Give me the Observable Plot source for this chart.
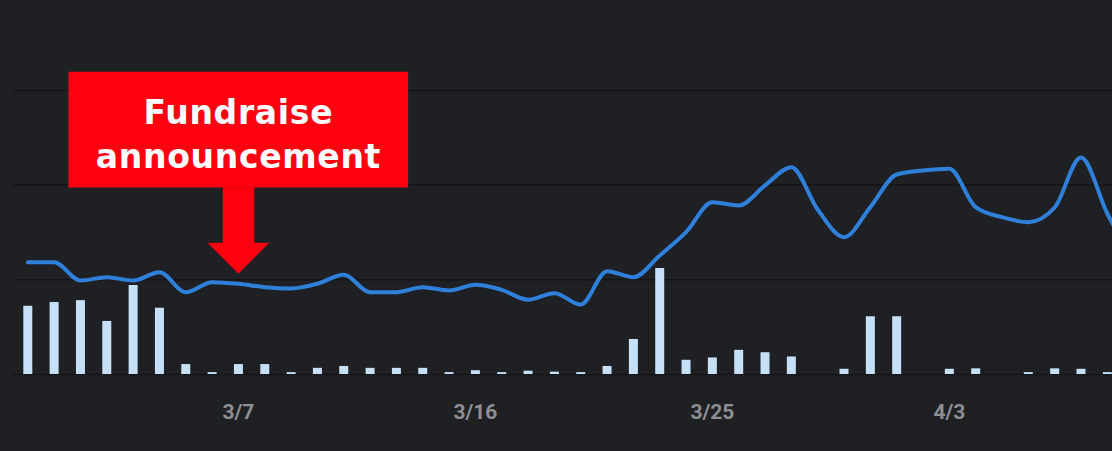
<!DOCTYPE html>
<html><head><meta charset="utf-8">
<script src="https://cdn.jsdelivr.net/npm/d3@7"></script>
<script src="https://cdn.jsdelivr.net/npm/@observablehq/plot@0.6"></script>
<style>
html,body{margin:0;padding:0;background:#1f2024;}
#chart{width:1112px;height:451px;overflow:hidden}
g[font-family="DejaVu Sans"] text{letter-spacing:0.7px}
</style></head><body><div id="chart"></div>
<script>
// ---- data ----
const startDate = "2023-02-27";
const lineValues = [11.86, 11.86, 9.93, 10.27, 9.93, 10.80, 8.69, 9.75, 9.58, 9.22,
  9.08, 9.58, 10.53, 8.69, 8.69, 9.22, 8.87, 9.47, 8.94, 7.89,
  8.59, 7.39, 10.91, 10.27, 12.57, 15.03, 18.19, 17.85, 19.96, 21.89,
  17.42, 14.50, 17.67, 21.12, 21.54, 21.72, 17.67, 16.61, 16.08, 17.63,
  22.91, 17.00, 12.00];
const barValues = [7.2, 7.6, 7.8, 5.6, 9.4, 7.0, 1.05, 0.2, 1.05, 1.05,
  0.2, 0.65, 0.85, 0.65, 0.65, 0.65, 0.2, 0.4, 0.2, 0.35,
  0.25, 0.2, 0.85, 3.7, 11.2, 1.5, 1.75, 2.55, 2.3, 1.85,
  0, 0.55, 6.1, 6.1, 0, 0.55, 0.6, 0, 0.2, 0.6,
  0.55, 0.2];
const tickDates = ["2023-03-07", "2023-03-16", "2023-03-25", "2023-04-03"];
const tickLabels = ["3/7", "3/16", "3/25", "4/3"];
const annotationDate = "2023-03-07";
const annotationLabel = "Fundraise\nannouncement";

// ---- build ----
const parse = d3.utcParse("%Y-%m-%d");
const start = parse(startDate);
const dayAt = i => new Date(start.getTime() + i * 864e5);
const lineData = lineValues.map((v, i) => ({date: d3.utcDay.offset(start, i), value: v}));
const barData = barValues.map((v, i) => ({date: d3.utcDay.offset(start, i), value: v}));
const ticks = tickDates.map(parse);
const labelByTime = new Map(ticks.map((t, i) => [+t, tickLabels[i]]));
const annDate = parse(annotationDate);
const annValue = lineData.find(d => +d.date === +annDate).value;
const annotation = [{date: annDate, value: annValue, label: annotationLabel}];

const boxSymbol = {draw(c) {
  c.moveTo(-170, -212); c.lineTo(169.7, -212); c.lineTo(169.7, -96.3); c.lineTo(-170, -96.3); c.closePath();
}};
const arrowSymbol = {draw(c) {
  c.moveTo(-16, -97); c.lineTo(16, -97); c.lineTo(16, -41.3); c.lineTo(31.5, -41.3);
  c.lineTo(0, -9.7); c.lineTo(-31.5, -41.3); c.lineTo(-16, -41.3); c.closePath();
}};

const plot = Plot.plot({
  width: 1112, height: 451,
  marginLeft: 13, marginRight: 0, marginTop: 0, marginBottom: 77,
  style: {background: "#1f2024", color: "#8c8d91", fontFamily: "Roboto", overflow: "hidden"},
  x: {type: "utc", domain: [dayAt(-0.543), dayAt(41.197)]},
  y: {domain: [0, 39.49], axis: null},
  marks: [
    Plot.gridY([0, 10, 20, 30], {stroke: "#141518", strokeOpacity: 1, strokeWidth: 1.5}),
    Plot.ruleX(barData, {x: "date", y1: 0, y2: "value", stroke: "#c5e0f7", strokeWidth: 9}),
    Plot.line(lineData, {x: "date", y: "value", stroke: "#2f80db", strokeWidth: 4, curve: "monotone-x", clip: true}),
    Plot.dot(annotation, {x: "date", y: "value", symbol: arrowSymbol, r: 10, fill: "#fe0010", stroke: "#4a1a1c", strokeWidth: 1}),
    Plot.dot(annotation, {x: "date", y: "value", symbol: boxSymbol, r: 10, fill: "#fe0010", stroke: "none"}),
    Plot.text(annotation, {x: "date", y: "value", text: "label", dy: -151.6, lineHeight: 1.333,
      lineAnchor: "middle", fontSize: 33, fontWeight: "bold", fontFamily: "DejaVu Sans", fill: "white"}),
    Plot.axisX(ticks, {tickFormat: d => labelByTime.get(+d), tickSize: 0, tickPadding: 30,
      fontSize: 21, fontWeight: 700, fill: "#8e8f93", label: null})
  ]
});
document.getElementById("chart").appendChild(plot);
</script></body></html>
